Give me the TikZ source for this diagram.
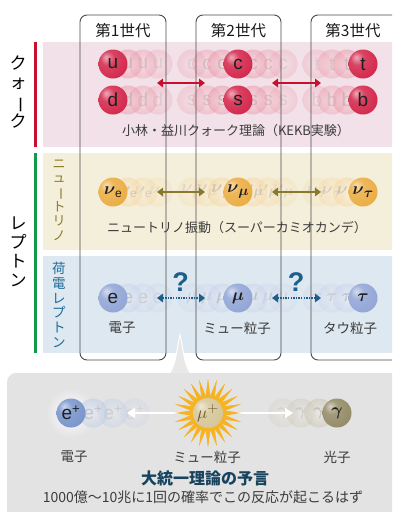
\documentclass[tikz,border=0pt]{standalone}
\usepackage{fontspec}
\usepackage{bm}
\usepackage{graphicx}
\setmainfont{Noto Sans CJK JP}
\newfontfamily\latin{Liberation Sans}
\usetikzlibrary{arrows.meta,shapes.geometric}

\definecolor{bandq}{HTML}{F2E1E8}
\definecolor{bandn}{HTML}{F4EFDA}
\definecolor{bandl}{HTML}{DEE8F0}
\definecolor{barred}{HTML}{C8102E}
\definecolor{bargreen}{HTML}{12994A}
\definecolor{boxline}{HTML}{4A4A4A}
\definecolor{qcol}{HTML}{D42A4E}
\definecolor{ncol}{HTML}{EBAE45}
\definecolor{lcol}{HTML}{93A6D6}
\definecolor{pcol}{HTML}{7A96CC}
\definecolor{mcol}{HTML}{D6C79A}
\definecolor{gcol}{HTML}{958C68}
\definecolor{arrq}{HTML}{C8102E}
\definecolor{arrn}{HTML}{877A2C}
\definecolor{arrl}{HTML}{1D5F8B}
\definecolor{txtn}{HTML}{8A7A2C}
\definecolor{txtl}{HTML}{1F6C9C}
\definecolor{txtd}{HTML}{3C3C3C}
\definecolor{boxgray}{HTML}{E3E3E3}
\definecolor{spikegray}{HTML}{E8E8E8}
\definecolor{sun}{HTML}{F6B324}
\definecolor{headline}{HTML}{17435E}
\definecolor{mutext}{HTML}{6E5526}

% glossy sphere shadings with an upper-left highlight
\newcommand\mksphere[2]{%
  \pgfdeclareradialshading{#1}{\pgfqpoint{-12bp}{12bp}}{%
    color(0bp)=(#2!40!white); color(12bp)=(#2!88!white);
    color(32bp)=(#2); color(55bp)=(#2!76!black); color(70bp)=(#2!62!black)}}
\mksphere{sphq}{qcol}
\mksphere{sphn}{ncol}
\mksphere{sphl}{lcol}
\mksphere{sphp}{pcol}
\mksphere{sphm}{mcol}
\mksphere{sphg}{gcol}

\tikzset{
  part/.style={circle, minimum size=29pt, inner sep=0pt, shade, shading=#1,
    text=black!88, font=\latin\fontsize{19}{19}\selectfont},
  ghost/.style={circle, minimum size=29pt, inner sep=0pt,
    inner color=#1!18!white, outer color=#1!50!white,
    text=black!35, font=\latin\fontsize{19}{19}\selectfont},
  genbox/.style={draw=boxline, line width=0.9pt, rounded corners=7pt},
  gentitle/.style={font=\fontsize{15.5}{15.5}\selectfont, text=black!90},
  caption/.style={font=\fontsize{13}{13}\selectfont, text=txtd},
  plabel/.style={font=\fontsize{13.5}{13.5}\selectfont, text=txtd},
  dbl/.style={{Triangle[length=6pt,width=8.5pt]}-{Triangle[length=6pt,width=8.5pt]}, line width=2.3pt},
  vlabel/.style={align=center, inner sep=0pt},
  qmark/.style={font=\latin\bfseries\fontsize{27}{27}\selectfont, text=arrl},
  whitearrow/.style={draw=white, line width=2.2pt, -{Triangle[length=8pt,width=10pt]}},
  burststyle/.style={star, star points=24, star point ratio=2.0, minimum size=68pt,
    inner sep=0pt, fill=sun},
}

% ghost copies to the right / left of a particle
\newcommand\ghostsR[5]{%
  \foreach \n/\d/\o in {3/45/0.28,2/30/0.38,1/15/0.5}{%
    \node[ghost=#4, opacity=\o] (#1r\n) at ({#2+\d},#3) {#5};}}
\newcommand\ghostsL[5]{%
  \foreach \n/\d/\o in {3/46/0.28,2/31/0.38,1/16/0.5}{%
    \node[ghost=#4, opacity=\o] (#1l\n) at ({#2-\d},#3) {#5};}}

\newcommand\nue{$\bm\nu$\raisebox{-3pt}{\fontsize{12}{12}\selectfont e}}
\newcommand\num{$\bm\nu$\raisebox{-3pt}{\fontsize{14}{14}\selectfont$\bm\mu$}}
\newcommand\nut{$\bm\nu$\raisebox{-3pt}{\fontsize{14}{14}\selectfont$\bm\tau$}}

\begin{document}
\begin{tikzpicture}[x=1pt,y=-1pt]
\useasboundingbox (0,0) rectangle (392,512);
\clip (0,0) rectangle (392,512);

% bands
\fill[bandq] (43,42) rectangle (400,147);
\fill[bandn] (43,153) rectangle (400,250);
\fill[bandl] (43,256) rectangle (400,353);
\fill[barred] (33.5,42) rectangle (37,147);
\fill[bargreen] (33.5,153) rectangle (37,353);

% side labels
\node[vlabel, font=\fontsize{17}{19.5}\selectfont] (lquark) at (18,92)
  {ク\\ォ\\\rotatebox[origin=c]{-90}{ー}\\ク};
\node[vlabel, font=\fontsize{17}{19}\selectfont] (llepton) at (18,252)
  {レ\\プ\\ト\\ン};
\node[vlabel, font=\fontsize{13}{14.4}\selectfont, text=txtn] (lnu) at (59,200)
  {ニ\\ュ\\\rotatebox[origin=c]{-90}{ー}\\ト\\リ\\ノ};
\node[vlabel, font=\fontsize{13.5}{14.8}\selectfont, text=txtl] (lchg) at (59,305)
  {荷\\電\\レ\\プ\\ト\\ン};

% ghost copies
\ghostsR{u}{113}{64}{qcol}{u}
\ghostsR{d}{113}{100}{qcol}{d}
\ghostsL{c}{238}{64}{qcol}{c}
\ghostsR{c}{238}{64}{qcol}{c}
\ghostsL{s}{238}{100}{qcol}{s}
\ghostsR{s}{238}{100}{qcol}{s}
\ghostsL{t}{363}{64}{qcol}{t}
\ghostsL{b}{363}{100}{qcol}{b}
\ghostsR{ne}{113}{192}{ncol}{\nue}
\ghostsL{nm}{238}{192}{ncol}{\num}
\ghostsR{nm}{238}{192}{ncol}{\num}
\ghostsL{nt}{363}{192}{ncol}{\nut}
\ghostsR{e}{113}{298}{lcol}{e}
\ghostsL{m}{238}{298}{lcol}{$\bm\mu$}
\ghostsR{m}{238}{298}{lcol}{$\bm\mu$}
\ghostsL{ta}{363}{298}{lcol}{$\bm\tau$}

% generation frames
\draw[genbox] (80,15) rectangle (166,360);
\draw[genbox] (196,15) rectangle (281,360);
\draw[genbox] (311,15) rectangle (420,360);
\node[gentitle] (g1) at (123,31) {第1世代};
\node[gentitle] (g2) at (238.5,31) {第2世代};
\node[gentitle] (g3) at (353,31) {第3世代};

% arrow end points
\coordinate (q12a) at (157,83);  \coordinate (q12b) at (205,83);
\coordinate (q23a) at (272,83);  \coordinate (q23b) at (321,83);
\coordinate (n12a) at (157,192); \coordinate (n12b) at (205,192);
\coordinate (n23a) at (272,192); \coordinate (n23b) at (321,192);
\coordinate (l12a) at (157,298); \coordinate (l12b) at (205,298);
\coordinate (l23a) at (272,298); \coordinate (l23b) at (321,298);

\draw[dbl, arrq] (q12a) -- (q12b);
\draw[dbl, arrq] (q23a) -- (q23b);
\draw[dbl, arrn] (n12a) -- (n12b);
\draw[dbl, arrn] (n23a) -- (n23b);
\draw[dbl, arrl, line width=2pt, dash pattern=on 1.3pt off 1.3pt] (l12a) -- (l12b);
\draw[dbl, arrl, line width=2pt, dash pattern=on 1.3pt off 1.3pt] (l23a) -- (l23b);

% particles
\node[part=sphq] (u) at (113,64) {u};
\node[part=sphq] (d) at (113,100) {d};
\node[part=sphq] (c) at (238,64) {c};
\node[part=sphq] (s) at (238,100) {s};
\node[part=sphq] (t) at (363,64) {t};
\node[part=sphq] (b) at (363,100) {b};
\node[part=sphn] (nue) at (113,192) {\nue};
\node[part=sphn] (num) at (238,192) {\num};
\node[part=sphn] (nut) at (363,192) {\nut};
\node[part=sphl] (e) at (113,298) {e};
\node[part=sphl] (mu) at (238,298) {$\bm\mu$};
\node[part=sphl] (tau) at (363,298) {$\bm\tau$};

\node[qmark] (qm1) at (180.5,282) {?};
\node[qmark] (qm2) at (296,282) {?};

% captions
\node[caption] (capq) at (236,131) {小林・益川クォーク理論（KEKB実験）};
\node[caption] (capn) at (237,228) {ニュートリノ振動（スーパーカミオカンデ）};
\node[plabel] (le) at (122,328) {電子};
\node[plabel] (lm) at (237,328) {ミュー粒子};
\node[plabel] (lt) at (350,328) {タウ粒子};

% prediction panel
\path[fill=spikegray, draw=white, line width=1pt]
  (168,375) .. controls (176,368) and (177,345) .. (180,335)
  .. controls (183,345) and (184,368) .. (192,375);
\fill[boxgray, rounded corners=9pt] (7,373) rectangle (420,540);
\shade[inner color=white, outer color=boxgray] (71,413) circle (25pt);

\foreach \n/\d/\o in {3/64/0.22,2/42/0.35,1/22/0.5}{%
  \node[ghost=pcol, opacity=\o] (epg\n) at ({71+\d},413) {e\textsuperscript{+}};}
\foreach \n/\d/\o in {3/54/0.25,2/36/0.38,1/18/0.55}{%
  \node[ghost=gcol, opacity=\o] (gmg\n) at ({337-\d},413) {$\bm\gamma$};}

\coordinate (ea) at (127,413);
\coordinate (ga) at (293,413);
\node[burststyle] (burst) at (208,413) {};
\draw[whitearrow] (burst.center) -- (ea);
\draw[whitearrow] (burst.center) -- (ga);
\node[burststyle] (burst2) at (208,413) {};
\node[part=sphm, minimum size=30pt, text=mutext] (mup) at (208,413) {$\mu^{+}$};
\node[part=sphp] (ep) at (71,413) {e\textsuperscript{+}};
\node[part=sphg] (gam) at (337,413) {$\bm\gamma$};

\node[plabel] (lep) at (74,457) {電子};
\node[plabel] (lmup) at (207,457) {ミュー粒子};
\node[plabel] (lgam) at (337,457) {光子};
\node[font=\bfseries\fontsize{16}{16}\selectfont, text=headline] (gut) at (205,478) {大統一理論の予言};
\node[font=\fontsize{14}{14}\selectfont, text=txtd] (prob) at (203,497)
  {1000億〜10兆に1回の確率でこの反応が起こるはず};
\end{tikzpicture}
\end{document}
